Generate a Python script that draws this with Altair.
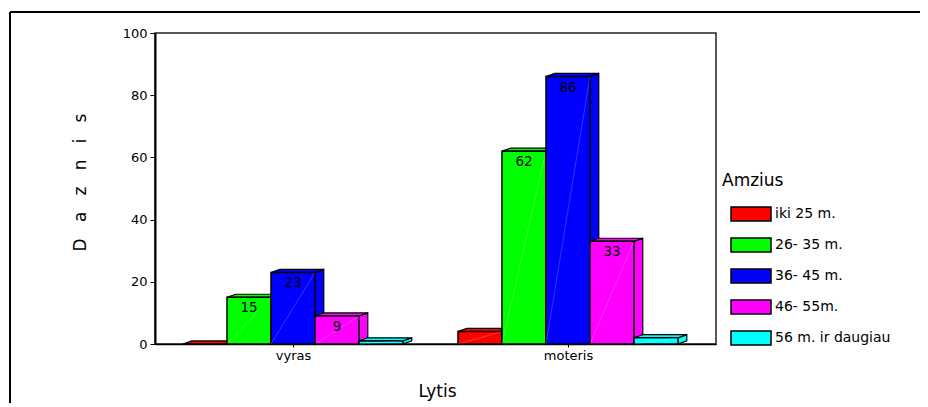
import altair as alt
import pandas as pd

groups = ["vyras", "moteris"]
series = ["iki 25 m.", "26- 35 m.", "36- 45 m.", "46- 55m.", "56 m. ir daugiau"]
colors = ["#ff0000", "#00ff00", "#0000ff", "#ff00ff", "#00ffff"]
vyras = [0, 15, 23, 9, 1]
moteris = [4, 62, 86, 33, 2]
labelled_min = 5

# layout, in bar widths / value units
group_centers = [3.136, 9.386]
DX, DY = 0.2, 1.0
XMAX = 561 / 44

rows, faces = [], []
for g, vals, c in zip(groups, [vyras, moteris], group_centers):
    for i, (s, v) in enumerate(zip(series, vals)):
        l = c - 2.5 + i
        r = l + 1
        rows.append(dict(group=g, series=s, i=i, value=v, l=l, r=r, base=0,
                         label=str(v) if v >= labelled_min else ""))
        faces += [
            dict(i=i, poly=f"{g}-side", x=r, y=0, y2=v),
            dict(i=i, poly=f"{g}-side", x=r + DX, y=DY, y2=v + DY),
            dict(i=i, poly=f"{g}-top", x=l, y=v, y2=v),
            dict(i=i, poly=f"{g}-top", x=l + DX, y=v, y2=v + DY),
            dict(i=i, poly=f"{g}-top", x=r, y=v, y2=v + DY),
            dict(i=i, poly=f"{g}-top", x=r + DX, y=v + DY, y2=v + DY),
        ]
bars = pd.DataFrame(rows)
polys = pd.DataFrame(faces)

xscale = alt.Scale(domain=[0, XMAX], nice=False, zero=False)
yscale = alt.Scale(domain=[0, 100], nice=False)
FONT = "DejaVu Sans"

xaxis = alt.Axis(
    values=group_centers, grid=False, tickSize=3, tickColor="black", tickWidth=1,
    domainColor="black", domainWidth=1.5,
    labelExpr=f"datum.value < 6 ? '{groups[0]}' : '{groups[1]}'",
    labelFont=FONT, labelFontSize=13, labelColor="black", labelPadding=2,
    title="Lytis", titleFont=FONT, titleFontSize=17, titleFontWeight="normal",
    titleColor="black", titleX=282, titleY=47, titleBaseline="middle",
)
yaxis = alt.Axis(
    values=[0, 20, 40, 60, 80, 100], grid=False, tickSize=5, tickColor="black",
    tickWidth=1, domainColor="black", domainWidth=2,
    labelFont=FONT, labelFontSize=13, labelColor="black", labelPadding=3,
    title="\u00a0\u00a0\u00a0".join("Daznis"), titleFont=FONT, titleFontSize=17,
    titleFontWeight="normal", titleColor="black", titleX=-75, titleY=149,
    titleBaseline="middle",
)
X = alt.X("l:Q", scale=xscale, axis=xaxis)
Y = alt.Y("value:Q", scale=yscale, axis=yaxis)

layers = []
color = alt.Color(
    "series:N",
    scale=alt.Scale(domain=series, range=colors),
    legend=alt.Legend(
        orient="none", legendX=567, legendY=140, title="Amzius",
        titleFont=FONT, titleFontSize=17, titleFontWeight="normal", titleColor="black",
        titlePadding=13, labelFont=FONT, labelFontSize=14, labelColor="black",
        labelOffset=31, rowPadding=10, padding=0,
        symbolType="M-0.2,-0.7H3.8V0.7H-0.2Z", symbolSize=400,
        symbolStrokeColor="black", symbolStrokeWidth=1.5, symbolOpacity=1,
        labelLimit=200,
    ),
    sort=series,
)
for i, s in enumerate(series):
    layers.append(
        alt.Chart(polys[polys.i == i]).mark_area(
            color=colors[i], stroke="black", strokeWidth=1.2, opacity=1, interpolate="linear"
        ).encode(
            x=alt.X("x:Q", scale=xscale, axis=xaxis),
            y=alt.Y("y:Q", scale=yscale, axis=yaxis),
            y2="y2:Q",
            detail="poly:N",
        )
    )
    d = bars[bars.i == i]
    layers.append(
        alt.Chart(d).mark_rect(stroke="black", strokeWidth=1.5).encode(
            x=X, x2="r:Q", y=Y, y2="base:Q", color=color
        )
    )
    layers.append(
        alt.Chart(d[d.value > 0]).mark_rule(color="white", opacity=0.35, strokeWidth=0.6).encode(
            x=X, x2="r:Q",
            y=alt.Y("base:Q", scale=yscale, axis=yaxis), y2="value:Q",
        )
    )

texts = alt.Chart(bars).transform_calculate(c="(datum.l + datum.r) / 2").mark_text(
    font=FONT, fontSize=13.5, color="black", dy=11
).encode(
    x=alt.X("c:Q", scale=xscale, axis=xaxis),
    y=Y,
    text="label:N",
)
layers.append(texts)

# outer page frame
frame = [
    alt.Chart().mark_rule(color="black", strokeWidth=2).encode(
        x=alt.value(x0), x2=alt.value(x1), y=alt.value(y0), y2=alt.value(y1)
    )
    for x0, x1, y0, y1 in [(-145, 771, -21, -21), (-145, -145, -21, 370)]
]

chart = alt.layer(*layers, *frame).properties(
    width=561, height=311,
    autosize="none",
    padding={"left": 147, "top": 25, "right": 204, "bottom": 63},
    background="white",
).configure_view(stroke="#222222", strokeWidth=1.5)

chart.save("out.html", embed_options={"renderer": "svg", "actions": False})
